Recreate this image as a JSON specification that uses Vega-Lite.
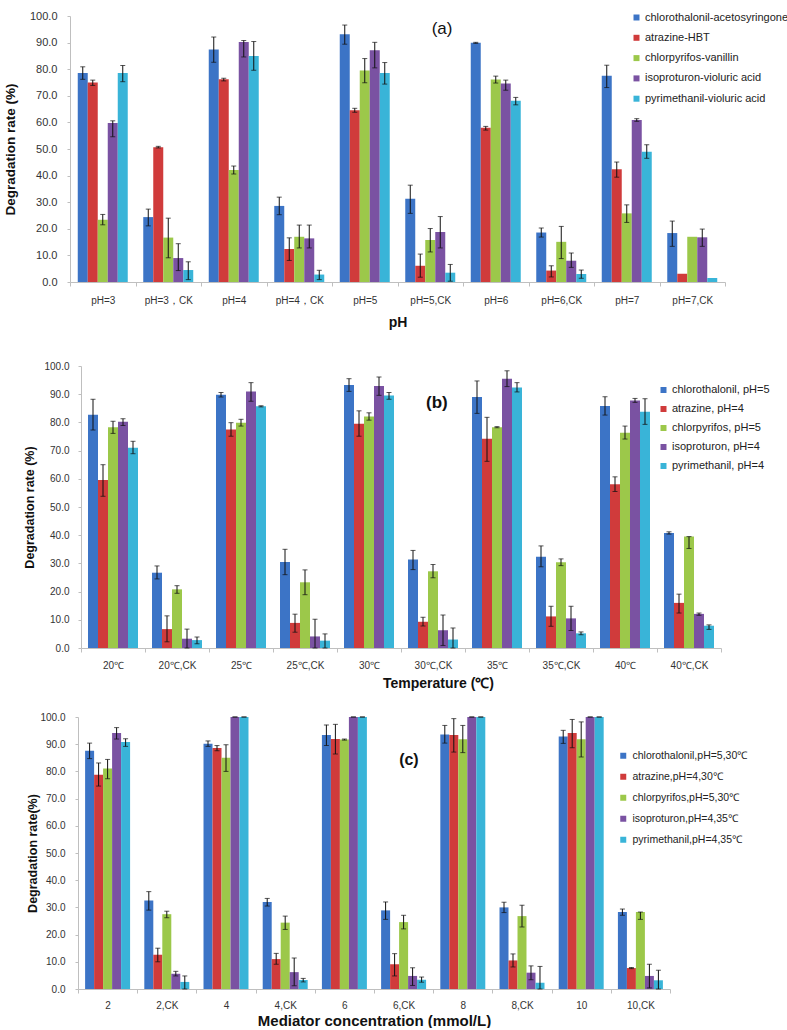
{
"$schema": "https://vega.github.io/schema/vega-lite/v6.json",
"padding": {"left": 2, "top": 10, "right": 0, "bottom": 0},
"config": {"view": {"stroke": null}, "font": "Liberation Sans",
  "axis": {"labelFont": "Liberation Sans", "titleFont": "Liberation Sans", "labelColor": "#333", "titleColor": "#111", "domainColor": "#bfbfbf", "tickColor": "#bfbfbf", "grid": false, "labelOverlap": false},
  "legend": {"labelFont": "Liberation Sans", "labelColor": "#222", "padding": 0}},
"datasets": {
"a": [
{"g":"pH=3","s":"chlorothalonil-acetosyringone","v":78.6,"lo":76.2,"hi":80.9},
{"g":"pH=3","s":"atrazine-HBT","v":75.0,"lo":73.9,"hi":75.9},
{"g":"pH=3","s":"chlorpyrifos-vanillin","v":23.4,"lo":21.5,"hi":25.4},
{"g":"pH=3","s":"isoproturon-violuric acid","v":59.8,"lo":54.6,"hi":60.6},
{"g":"pH=3","s":"pyrimethanil-violuric acid","v":78.6,"lo":75.3,"hi":81.4},
{"g":"pH=3，CK","s":"chlorothalonil-acetosyringone","v":24.4,"lo":21.1,"hi":27.4},
{"g":"pH=3，CK","s":"atrazine-HBT","v":50.7,"lo":50.4,"hi":51.0},
{"g":"pH=3，CK","s":"chlorpyrifos-vanillin","v":16.7,"lo":9.1,"hi":24.0},
{"g":"pH=3，CK","s":"isoproturon-violuric acid","v":9.0,"lo":4.3,"hi":14.4},
{"g":"pH=3，CK","s":"pyrimethanil-violuric acid","v":4.5,"lo":0.9,"hi":7.6},
{"g":"pH=4","s":"chlorothalonil-acetosyringone","v":87.4,"lo":82.6,"hi":92.1},
{"g":"pH=4","s":"atrazine-HBT","v":76.2,"lo":75.6,"hi":76.6},
{"g":"pH=4","s":"chlorpyrifos-vanillin","v":42.1,"lo":40.6,"hi":43.6},
{"g":"pH=4","s":"isoproturon-violuric acid","v":90.2,"lo":84.6,"hi":90.8},
{"g":"pH=4","s":"pyrimethanil-violuric acid","v":85.0,"lo":79.6,"hi":90.4},
{"g":"pH=4，CK","s":"chlorothalonil-acetosyringone","v":28.6,"lo":25.3,"hi":31.9},
{"g":"pH=4，CK","s":"atrazine-HBT","v":12.4,"lo":8.1,"hi":16.6},
{"g":"pH=4，CK","s":"chlorpyrifos-vanillin","v":17.0,"lo":12.8,"hi":21.4},
{"g":"pH=4，CK","s":"isoproturon-violuric acid","v":16.4,"lo":12.8,"hi":21.4},
{"g":"pH=4，CK","s":"pyrimethanil-violuric acid","v":2.8,"lo":0.9,"hi":4.4},
{"g":"pH=5","s":"chlorothalonil-acetosyringone","v":93.1,"lo":89.4,"hi":96.6},
{"g":"pH=5","s":"atrazine-HBT","v":64.6,"lo":63.8,"hi":65.3},
{"g":"pH=5","s":"chlorpyrifos-vanillin","v":79.5,"lo":74.9,"hi":84.0},
{"g":"pH=5","s":"isoproturon-violuric acid","v":87.1,"lo":80.5,"hi":90.1},
{"g":"pH=5","s":"pyrimethanil-violuric acid","v":78.6,"lo":74.4,"hi":82.5},
{"g":"pH=5,CK","s":"chlorothalonil-acetosyringone","v":31.3,"lo":25.8,"hi":36.4},
{"g":"pH=5,CK","s":"atrazine-HBT","v":6.1,"lo":1.8,"hi":10.5},
{"g":"pH=5,CK","s":"chlorpyrifos-vanillin","v":15.8,"lo":11.3,"hi":20.1},
{"g":"pH=5,CK","s":"isoproturon-violuric acid","v":18.8,"lo":12.8,"hi":24.6},
{"g":"pH=5,CK","s":"pyrimethanil-violuric acid","v":3.5,"lo":0.3,"hi":6.6},
{"g":"pH=6","s":"chlorothalonil-acetosyringone","v":89.9,"lo":89.7,"hi":90.1},
{"g":"pH=6","s":"atrazine-HBT","v":58.0,"lo":57.1,"hi":58.5},
{"g":"pH=6","s":"chlorpyrifos-vanillin","v":76.1,"lo":74.8,"hi":77.4},
{"g":"pH=6","s":"isoproturon-violuric acid","v":74.6,"lo":72.1,"hi":75.9},
{"g":"pH=6","s":"pyrimethanil-violuric acid","v":68.1,"lo":66.6,"hi":69.4},
{"g":"pH=6,CK","s":"chlorothalonil-acetosyringone","v":18.6,"lo":16.9,"hi":20.3},
{"g":"pH=6,CK","s":"atrazine-HBT","v":4.3,"lo":1.9,"hi":6.1},
{"g":"pH=6,CK","s":"chlorpyrifos-vanillin","v":15.1,"lo":8.8,"hi":20.9},
{"g":"pH=6,CK","s":"isoproturon-violuric acid","v":8.0,"lo":5.5,"hi":10.9},
{"g":"pH=6,CK","s":"pyrimethanil-violuric acid","v":3.0,"lo":1.4,"hi":4.5},
{"g":"pH=7","s":"chlorothalonil-acetosyringone","v":77.5,"lo":73.1,"hi":81.5},
{"g":"pH=7","s":"atrazine-HBT","v":42.4,"lo":39.4,"hi":45.1},
{"g":"pH=7","s":"chlorpyrifos-vanillin","v":25.8,"lo":22.4,"hi":29.0},
{"g":"pH=7","s":"isoproturon-violuric acid","v":60.9,"lo":60.4,"hi":61.4},
{"g":"pH=7","s":"pyrimethanil-violuric acid","v":49.0,"lo":46.5,"hi":51.6},
{"g":"pH=7,CK","s":"chlorothalonil-acetosyringone","v":18.4,"lo":13.4,"hi":22.9},
{"g":"pH=7,CK","s":"atrazine-HBT","v":3.1,"lo":null,"hi":null},
{"g":"pH=7,CK","s":"chlorpyrifos-vanillin","v":17.0,"lo":null,"hi":null},
{"g":"pH=7,CK","s":"isoproturon-violuric acid","v":16.8,"lo":13.4,"hi":19.9},
{"g":"pH=7,CK","s":"pyrimethanil-violuric acid","v":1.5,"lo":null,"hi":null}
],
"b": [
{"g":"20℃","s":"chlorothalonil, pH=5","v":82.7,"lo":77.3,"hi":88.2},
{"g":"20℃","s":"atrazine, pH=4","v":59.6,"lo":53.8,"hi":65.0},
{"g":"20℃","s":"chlorpyrifos, pH=5","v":78.3,"lo":76.1,"hi":80.4},
{"g":"20℃","s":"isoproturon, pH=4","v":80.2,"lo":78.9,"hi":81.3},
{"g":"20℃","s":"pyrimethanil, pH=4","v":71.0,"lo":68.9,"hi":73.3},
{"g":"20℃,CK","s":"chlorothalonil, pH=5","v":26.7,"lo":24.5,"hi":29.1},
{"g":"20℃,CK","s":"atrazine, pH=4","v":6.7,"lo":2.2,"hi":11.4},
{"g":"20℃,CK","s":"chlorpyrifos, pH=5","v":20.8,"lo":19.4,"hi":22.1},
{"g":"20℃,CK","s":"isoproturon, pH=4","v":3.3,"lo":0,"hi":6.7},
{"g":"20℃,CK","s":"pyrimethanil, pH=4","v":2.8,"lo":1.5,"hi":3.9},
{"g":"25℃","s":"chlorothalonil, pH=5","v":89.8,"lo":89.0,"hi":90.6},
{"g":"25℃","s":"atrazine, pH=4","v":77.5,"lo":75.1,"hi":79.9},
{"g":"25℃","s":"chlorpyrifos, pH=5","v":79.9,"lo":78.7,"hi":81.1},
{"g":"25℃","s":"isoproturon, pH=4","v":91.0,"lo":87.5,"hi":94.1},
{"g":"25℃","s":"pyrimethanil, pH=4","v":85.7,"lo":85.5,"hi":85.9},
{"g":"25℃,CK","s":"chlorothalonil, pH=5","v":30.5,"lo":26.0,"hi":35.0},
{"g":"25℃,CK","s":"atrazine, pH=4","v":8.9,"lo":5.6,"hi":12.0},
{"g":"25℃,CK","s":"chlorpyrifos, pH=5","v":23.3,"lo":18.9,"hi":27.7},
{"g":"25℃,CK","s":"isoproturon, pH=4","v":4.1,"lo":0,"hi":10.2},
{"g":"25℃,CK","s":"pyrimethanil, pH=4","v":2.6,"lo":0,"hi":5.0},
{"g":"30℃","s":"chlorothalonil, pH=5","v":93.3,"lo":91.0,"hi":95.5},
{"g":"30℃","s":"atrazine, pH=4","v":79.5,"lo":75.1,"hi":84.1},
{"g":"30℃","s":"chlorpyrifos, pH=5","v":82.1,"lo":80.8,"hi":83.4},
{"g":"30℃","s":"isoproturon, pH=4","v":92.9,"lo":89.6,"hi":96.1},
{"g":"30℃","s":"pyrimethanil, pH=4","v":89.5,"lo":88.2,"hi":90.6},
{"g":"30℃,CK","s":"chlorothalonil, pH=5","v":31.4,"lo":27.8,"hi":34.6},
{"g":"30℃,CK","s":"atrazine, pH=4","v":9.3,"lo":7.8,"hi":10.9},
{"g":"30℃,CK","s":"chlorpyrifos, pH=5","v":27.2,"lo":24.9,"hi":29.6},
{"g":"30℃,CK","s":"isoproturon, pH=4","v":6.3,"lo":0.9,"hi":11.7},
{"g":"30℃,CK","s":"pyrimethanil, pH=4","v":3.0,"lo":0,"hi":7.1},
{"g":"35℃","s":"chlorothalonil, pH=5","v":89.0,"lo":83.2,"hi":94.7},
{"g":"35℃","s":"atrazine, pH=4","v":74.2,"lo":66.2,"hi":81.8},
{"g":"35℃","s":"chlorpyrifos, pH=5","v":78.3,"lo":78.1,"hi":78.5},
{"g":"35℃","s":"isoproturon, pH=4","v":95.5,"lo":92.7,"hi":98.3},
{"g":"35℃","s":"pyrimethanil, pH=4","v":92.4,"lo":90.8,"hi":94.1},
{"g":"35℃,CK","s":"chlorothalonil, pH=5","v":32.4,"lo":28.8,"hi":36.2},
{"g":"35℃,CK","s":"atrazine, pH=4","v":11.2,"lo":7.7,"hi":14.8},
{"g":"35℃,CK","s":"chlorpyrifos, pH=5","v":30.4,"lo":29.2,"hi":31.6},
{"g":"35℃,CK","s":"isoproturon, pH=4","v":10.5,"lo":6.2,"hi":14.8},
{"g":"35℃,CK","s":"pyrimethanil, pH=4","v":5.2,"lo":4.7,"hi":5.7},
{"g":"40℃","s":"chlorothalonil, pH=5","v":85.8,"lo":82.6,"hi":89.1},
{"g":"40℃","s":"atrazine, pH=4","v":58.1,"lo":55.5,"hi":60.7},
{"g":"40℃","s":"chlorpyrifos, pH=5","v":76.3,"lo":74.1,"hi":78.7},
{"g":"40℃","s":"isoproturon, pH=4","v":87.8,"lo":87.1,"hi":88.5},
{"g":"40℃","s":"pyrimethanil, pH=4","v":83.8,"lo":79.3,"hi":88.4},
{"g":"40℃,CK","s":"chlorothalonil, pH=5","v":40.8,"lo":40.4,"hi":41.2},
{"g":"40℃,CK","s":"atrazine, pH=4","v":16.0,"lo":12.4,"hi":19.1},
{"g":"40℃,CK","s":"chlorpyrifos, pH=5","v":39.5,"lo":35.3,"hi":39.5},
{"g":"40℃,CK","s":"isoproturon, pH=4","v":12.1,"lo":11.6,"hi":12.4},
{"g":"40℃,CK","s":"pyrimethanil, pH=4","v":7.9,"lo":6.6,"hi":8.2}
],
"c": [
{"g":"2","s":"chlorothalonil,pH=5,30℃","v":87.6,"lo":84.7,"hi":90.4},
{"g":"2","s":"atrazine,pH=4,30℃","v":78.8,"lo":74.6,"hi":83.1},
{"g":"2","s":"chlorpyrifos,pH=5,30℃","v":81.1,"lo":77.3,"hi":84.4},
{"g":"2","s":"isoproturon,pH=4,35℃","v":94.1,"lo":91.9,"hi":96.1},
{"g":"2","s":"pyrimethanil,pH=4,35℃","v":90.8,"lo":89.2,"hi":92.0},
{"g":"2,CK","s":"chlorothalonil,pH=5,30℃","v":32.5,"lo":29.0,"hi":35.8},
{"g":"2,CK","s":"atrazine,pH=4,30℃","v":12.6,"lo":10.0,"hi":15.0},
{"g":"2,CK","s":"chlorpyrifos,pH=5,30℃","v":27.5,"lo":26.2,"hi":28.6},
{"g":"2,CK","s":"isoproturon,pH=4,35℃","v":5.6,"lo":4.8,"hi":6.5},
{"g":"2,CK","s":"pyrimethanil,pH=4,35℃","v":2.6,"lo":0,"hi":4.8},
{"g":"4","s":"chlorothalonil,pH=5,30℃","v":90.2,"lo":89.2,"hi":91.2},
{"g":"4","s":"atrazine,pH=4,30℃","v":88.6,"lo":87.6,"hi":89.5},
{"g":"4","s":"chlorpyrifos,pH=5,30℃","v":85.0,"lo":80.0,"hi":89.8},
{"g":"4","s":"isoproturon,pH=4,35℃","v":100,"lo":100,"hi":100},
{"g":"4","s":"pyrimethanil,pH=4,35℃","v":100,"lo":100,"hi":100},
{"g":"4,CK","s":"chlorothalonil,pH=5,30℃","v":32.0,"lo":30.5,"hi":33.3},
{"g":"4,CK","s":"atrazine,pH=4,30℃","v":11.0,"lo":9.1,"hi":13.1},
{"g":"4,CK","s":"chlorpyrifos,pH=5,30℃","v":24.4,"lo":21.9,"hi":26.8},
{"g":"4,CK","s":"isoproturon,pH=4,35℃","v":6.2,"lo":1.2,"hi":11.4},
{"g":"4,CK","s":"pyrimethanil,pH=4,35℃","v":3.3,"lo":2.6,"hi":3.9},
{"g":"6","s":"chlorothalonil,pH=5,30℃","v":93.4,"lo":89.5,"hi":97.1},
{"g":"6","s":"atrazine,pH=4,30℃","v":91.9,"lo":86.4,"hi":97.3},
{"g":"6","s":"chlorpyrifos,pH=5,30℃","v":91.7,"lo":91.5,"hi":91.9},
{"g":"6","s":"isoproturon,pH=4,35℃","v":100,"lo":100,"hi":100},
{"g":"6","s":"pyrimethanil,pH=4,35℃","v":100,"lo":100,"hi":100},
{"g":"6,CK","s":"chlorothalonil,pH=5,30℃","v":28.9,"lo":25.6,"hi":32.0},
{"g":"6,CK","s":"atrazine,pH=4,30℃","v":9.1,"lo":4.8,"hi":13.0},
{"g":"6,CK","s":"chlorpyrifos,pH=5,30℃","v":24.6,"lo":22.1,"hi":27.1},
{"g":"6,CK","s":"isoproturon,pH=4,35℃","v":4.8,"lo":1.3,"hi":7.8},
{"g":"6,CK","s":"pyrimethanil,pH=4,35℃","v":3.4,"lo":2.5,"hi":4.4},
{"g":"8","s":"chlorothalonil,pH=5,30℃","v":93.6,"lo":90.4,"hi":96.9},
{"g":"8","s":"atrazine,pH=4,30℃","v":93.4,"lo":87.1,"hi":99.4},
{"g":"8","s":"chlorpyrifos,pH=5,30℃","v":91.8,"lo":86.9,"hi":96.9},
{"g":"8","s":"isoproturon,pH=4,35℃","v":100,"lo":100,"hi":100},
{"g":"8","s":"pyrimethanil,pH=4,35℃","v":100,"lo":100,"hi":100},
{"g":"8,CK","s":"chlorothalonil,pH=5,30℃","v":30.0,"lo":28.1,"hi":31.9},
{"g":"8,CK","s":"atrazine,pH=4,30℃","v":10.5,"lo":8.1,"hi":12.9},
{"g":"8,CK","s":"chlorpyrifos,pH=5,30℃","v":26.8,"lo":22.8,"hi":30.8},
{"g":"8,CK","s":"isoproturon,pH=4,35℃","v":6.0,"lo":3.4,"hi":8.5},
{"g":"8,CK","s":"pyrimethanil,pH=4,35℃","v":2.3,"lo":0,"hi":8.3},
{"g":"10","s":"chlorothalonil,pH=5,30℃","v":92.8,"lo":90.3,"hi":95.1},
{"g":"10","s":"atrazine,pH=4,30℃","v":94.1,"lo":88.7,"hi":99.1},
{"g":"10","s":"chlorpyrifos,pH=5,30℃","v":91.8,"lo":85.3,"hi":98.2},
{"g":"10","s":"isoproturon,pH=4,35℃","v":100,"lo":100,"hi":100},
{"g":"10","s":"pyrimethanil,pH=4,35℃","v":100,"lo":100,"hi":100},
{"g":"10,CK","s":"chlorothalonil,pH=5,30℃","v":28.3,"lo":27.1,"hi":29.4},
{"g":"10,CK","s":"atrazine,pH=4,30℃","v":7.7,"lo":7.5,"hi":7.9},
{"g":"10,CK","s":"chlorpyrifos,pH=5,30℃","v":28.3,"lo":25.6,"hi":28.3},
{"g":"10,CK","s":"isoproturon,pH=4,35℃","v":4.8,"lo":0.4,"hi":9.1},
{"g":"10,CK","s":"pyrimethanil,pH=4,35℃","v":3.2,"lo":0,"hi":6.9}
]
},
"vconcat": [
{
 "width": 655, "height": 281,
 "data": {"name": "a"},
 "layer": [
  {"mark": {"type": "bar"},
   "encoding": {
    "x": {"field": "g", "type": "nominal", "title": "pH",
      "scale": {"domain": ["pH=3","pH=3，CK","pH=4","pH=4，CK","pH=5","pH=5,CK","pH=6","pH=6,CK","pH=7","pH=7,CK"], "range": [0, 655], "paddingInner": 0, "paddingOuter": 0},
      "axis": {"title": "pH", "titleFontSize": 14, "titleFontWeight": "bold", "labelAngle": 0, "labelFontSize": 10, "tickBand": "extent", "tickSize": 4, "labelPadding": 9, "titlePadding": 10, "offset": -15}},
    "xOffset": {"field": "s", "type": "nominal", "scale": {"domain": ["chlorothalonil-acetosyringone","atrazine-HBT","chlorpyrifos-vanillin","isoproturon-violuric acid","pyrimethanil-violuric acid"], "paddingInner": 0, "paddingOuter": 0.775}},
    "y": {"field": "v", "type": "quantitative", "title": "Degradation rate (%)",
      "scale": {"domain": [0, 100], "range": [266, 0], "nice": false},
      "axis": {"title": "Degradation rate (%)", "titleFontSize": 13.5, "titleFontWeight": "bold", "titleX": -60, "titleBaseline": "middle", "titleAlign": "center", "values": [0,10,20,30,40,50,60,70,80,90,100], "labelOverlap": false, "format": ".1f", "labelFontSize": 11, "labelPadding": 10, "tickSize": 3}},
    "color": {"field": "s", "type": "nominal",
      "scale": {"domain": ["chlorothalonil-acetosyringone","atrazine-HBT","chlorpyrifos-vanillin","isoproturon-violuric acid","pyrimethanil-violuric acid"], "range": ["#3C74C6","#D03B3B","#9CC84A","#7A52A2","#39B4D8"]},
      "legend": {"orient": "none", "legendX": 561, "legendY": -4, "title": null, "symbolType": "square", "symbolSize": 36, "symbolStrokeWidth": 0, "labelFontSize": 11, "labelOffset": 3, "rowPadding": 8.3, "labelLimit": 300}}
   }},
  {"mark": {"type": "rule", "color": "#111", "strokeWidth": 1},
   "encoding": {"x": {"field": "g", "type": "nominal", "title": "pH"}, "xOffset": {"field": "s", "type": "nominal"},
     "y": {"field": "lo", "type": "quantitative", "title": "Degradation rate (%)", "axis": {"title": "Degradation rate (%)", "titleFontSize": 13.5, "titleFontWeight": "bold", "titleX": -60, "titleBaseline": "middle", "titleAlign": "center", "values": [0,10,20,30,40,50,60,70,80,90,100], "labelOverlap": false, "format": ".1f", "labelFontSize": 11, "labelPadding": 10, "tickSize": 3}}, "y2": {"field": "hi"}}},
  {"mark": {"type": "tick", "orient": "horizontal", "size": 5, "thickness": 1, "color": "#111"},
   "encoding": {"x": {"field": "g", "type": "nominal", "title": "pH"}, "xOffset": {"field": "s", "type": "nominal"},
     "y": {"field": "lo", "type": "quantitative", "title": "Degradation rate (%)", "axis": {"title": "Degradation rate (%)", "titleFontSize": 13.5, "titleFontWeight": "bold", "titleX": -60, "titleBaseline": "middle", "titleAlign": "center", "values": [0,10,20,30,40,50,60,70,80,90,100], "labelOverlap": false, "format": ".1f", "labelFontSize": 11, "labelPadding": 10, "tickSize": 3}}}},
  {"mark": {"type": "tick", "orient": "horizontal", "size": 5, "thickness": 1, "color": "#111"},
   "encoding": {"x": {"field": "g", "type": "nominal", "title": "pH"}, "xOffset": {"field": "s", "type": "nominal"},
     "y": {"field": "hi", "type": "quantitative", "title": "Degradation rate (%)", "axis": {"title": "Degradation rate (%)", "titleFontSize": 13.5, "titleFontWeight": "bold", "titleX": -60, "titleBaseline": "middle", "titleAlign": "center", "values": [0,10,20,30,40,50,60,70,80,90,100], "labelOverlap": false, "format": ".1f", "labelFontSize": 11, "labelPadding": 10, "tickSize": 3}}}},
  {"data": {"values": [{}]},
   "mark": {"type": "text", "text": "(a)", "fontSize": 17, "font": "Liberation Sans", "color": "#111", "align": "center", "baseline": "middle"},
   "encoding": {"x": {"datum": "pH=5,CK", "bandPosition": 0.68}, "y": {"datum": 95, "axis": {"title": "Degradation rate (%)", "titleFontSize": 13.5, "titleFontWeight": "bold", "titleX": -60, "titleBaseline": "middle", "titleAlign": "center", "values": [0,10,20,30,40,50,60,70,80,90,100], "labelOverlap": false, "format": ".1f", "labelFontSize": 11, "labelPadding": 10, "tickSize": 3}}}}
 ]
},
{
 "width": 651, "height": 282,
 "data": {"name": "b"},
 "layer": [
  {"mark": {"type": "bar"},
   "encoding": {
    "x": {"field": "g", "type": "nominal", "title": "Temperature (℃)",
      "scale": {"domain": ["20℃","20℃,CK","25℃","25℃,CK","30℃","30℃,CK","35℃","35℃,CK","40℃","40℃,CK"], "range": [11, 651], "paddingInner": 0, "paddingOuter": 0},
      "axis": {"title": "Temperature (℃)", "titleFontSize": 14, "titleFontWeight": "bold", "titleX": 368, "titleAlign": "center", "labelAngle": 0, "labelFontSize": 10, "tickBand": "extent", "tickSize": 4, "labelPadding": 8, "titlePadding": 6}},
    "xOffset": {"field": "s", "type": "nominal", "scale": {"domain": ["chlorothalonil, pH=5","atrazine, pH=4","chlorpyrifos, pH=5","isoproturon, pH=4","pyrimethanil, pH=4"], "paddingInner": 0, "paddingOuter": 0.7}},
    "y": {"field": "v", "type": "quantitative", "title": "Degradation rate (%)",
      "scale": {"domain": [0, 100], "nice": false},
      "axis": {"title": "Degradation rate (%)", "titleFontSize": 12.5, "titleFontWeight": "bold", "titleX": -52, "titleBaseline": "middle", "titleAlign": "center", "offset": -11, "values": [0,10,20,30,40,50,60,70,80,90,100], "labelOverlap": false, "format": ".1f", "labelFontSize": 10, "labelPadding": 9, "tickSize": 3}},
    "color": {"field": "s", "type": "nominal",
      "scale": {"domain": ["chlorothalonil, pH=5","atrazine, pH=4","chlorpyrifos, pH=5","isoproturon, pH=4","pyrimethanil, pH=4"], "range": ["#3C74C6","#D03B3B","#9CC84A","#7A52A2","#39B4D8"]},
      "legend": {"orient": "none", "legendX": 588, "legendY": 18.5, "title": null, "symbolType": "square", "symbolSize": 36, "symbolStrokeWidth": 0, "labelFontSize": 11, "labelOffset": 3, "rowPadding": 7, "labelLimit": 300}}
   }},
  {"mark": {"type": "rule", "color": "#111", "strokeWidth": 1},
   "encoding": {"x": {"field": "g", "type": "nominal", "title": "Temperature (℃)"}, "xOffset": {"field": "s", "type": "nominal"},
     "y": {"field": "lo", "type": "quantitative", "title": "Degradation rate (%)", "axis": {"title": "Degradation rate (%)", "titleFontSize": 12.5, "titleFontWeight": "bold", "titleX": -52, "titleBaseline": "middle", "titleAlign": "center", "offset": -11, "values": [0,10,20,30,40,50,60,70,80,90,100], "labelOverlap": false, "format": ".1f", "labelFontSize": 10, "labelPadding": 9, "tickSize": 3}}, "y2": {"field": "hi"}}},
  {"mark": {"type": "tick", "orient": "horizontal", "size": 5, "thickness": 1, "color": "#111"},
   "encoding": {"x": {"field": "g", "type": "nominal", "title": "Temperature (℃)"}, "xOffset": {"field": "s", "type": "nominal"},
     "y": {"field": "lo", "type": "quantitative", "title": "Degradation rate (%)", "axis": {"title": "Degradation rate (%)", "titleFontSize": 12.5, "titleFontWeight": "bold", "titleX": -52, "titleBaseline": "middle", "titleAlign": "center", "offset": -11, "values": [0,10,20,30,40,50,60,70,80,90,100], "labelOverlap": false, "format": ".1f", "labelFontSize": 10, "labelPadding": 9, "tickSize": 3}}}},
  {"mark": {"type": "tick", "orient": "horizontal", "size": 5, "thickness": 1, "color": "#111"},
   "encoding": {"x": {"field": "g", "type": "nominal", "title": "Temperature (℃)"}, "xOffset": {"field": "s", "type": "nominal"},
     "y": {"field": "hi", "type": "quantitative", "title": "Degradation rate (%)", "axis": {"title": "Degradation rate (%)", "titleFontSize": 12.5, "titleFontWeight": "bold", "titleX": -52, "titleBaseline": "middle", "titleAlign": "center", "offset": -11, "values": [0,10,20,30,40,50,60,70,80,90,100], "labelOverlap": false, "format": ".1f", "labelFontSize": 10, "labelPadding": 9, "tickSize": 3}}}},
  {"data": {"values": [{}]},
   "mark": {"type": "text", "text": "(b)", "fontSize": 17, "fontWeight": "bold", "font": "Liberation Sans", "color": "#111", "align": "center", "baseline": "middle"},
   "encoding": {"x": {"datum": "30℃,CK", "bandPosition": 0.56}, "y": {"datum": 86.9, "axis": {"title": "Degradation rate (%)", "titleFontSize": 12.5, "titleFontWeight": "bold", "titleX": -52, "titleBaseline": "middle", "titleAlign": "center", "offset": -11, "values": [0,10,20,30,40,50,60,70,80,90,100], "labelOverlap": false, "format": ".1f", "labelFontSize": 10, "labelPadding": 9, "tickSize": 3}}}}
 ]
},
{
 "width": 600, "height": 272,
 "data": {"name": "c"},
 "layer": [
  {"mark": {"type": "bar"},
   "encoding": {
    "x": {"field": "g", "type": "nominal", "title": "Mediator concentration (mmol/L)",
      "scale": {"domain": ["2","2,CK","4","4,CK","6","6,CK","8","8,CK","10","10,CK"], "range": [8, 600], "paddingInner": 0, "paddingOuter": 0},
      "axis": {"title": "Mediator concentration (mmol/L)", "titleFontSize": 15, "titleFontWeight": "bold", "labelAngle": 0, "labelFontSize": 10, "tickBand": "extent", "tickSize": 4, "labelPadding": 7, "titlePadding": 3}},
    "xOffset": {"field": "s", "type": "nominal", "scale": {"domain": ["chlorothalonil,pH=5,30℃","atrazine,pH=4,30℃","chlorpyrifos,pH=5,30℃","isoproturon,pH=4,35℃","pyrimethanil,pH=4,35℃"], "paddingInner": 0, "paddingOuter": 0.79}},
    "y": {"field": "v", "type": "quantitative", "title": "Degradation rate(%)",
      "scale": {"domain": [0, 100], "nice": false},
      "axis": {"title": "Degradation rate(%)", "titleFontSize": 12.5, "titleFontWeight": "bold", "titleX": -46, "titleBaseline": "middle", "titleAlign": "center", "offset": -8, "values": [0,10,20,30,40,50,60,70,80,90,100], "labelOverlap": false, "format": ".1f", "labelFontSize": 10, "labelPadding": 10, "tickSize": 3}},
    "color": {"field": "s", "type": "nominal",
      "scale": {"domain": ["chlorothalonil,pH=5,30℃","atrazine,pH=4,30℃","chlorpyrifos,pH=5,30℃","isoproturon,pH=4,35℃","pyrimethanil,pH=4,35℃"], "range": ["#3C74C6","#D03B3B","#9CC84A","#7A52A2","#39B4D8"]},
      "legend": {"orient": "none", "legendX": 548, "legendY": 33.5, "title": null, "symbolType": "square", "symbolSize": 36, "symbolStrokeWidth": 0, "labelFontSize": 10.5, "labelOffset": 4, "rowPadding": 10, "labelLimit": 300}}
   }},
  {"mark": {"type": "rule", "color": "#111", "strokeWidth": 1},
   "encoding": {"x": {"field": "g", "type": "nominal", "title": "Mediator concentration (mmol/L)"}, "xOffset": {"field": "s", "type": "nominal"},
     "y": {"field": "lo", "type": "quantitative", "title": "Degradation rate(%)", "axis": {"title": "Degradation rate(%)", "titleFontSize": 12.5, "titleFontWeight": "bold", "titleX": -46, "titleBaseline": "middle", "titleAlign": "center", "offset": -8, "values": [0,10,20,30,40,50,60,70,80,90,100], "labelOverlap": false, "format": ".1f", "labelFontSize": 10, "labelPadding": 10, "tickSize": 3}}, "y2": {"field": "hi"}}},
  {"mark": {"type": "tick", "orient": "horizontal", "size": 5, "thickness": 1, "color": "#111"},
   "encoding": {"x": {"field": "g", "type": "nominal", "title": "Mediator concentration (mmol/L)"}, "xOffset": {"field": "s", "type": "nominal"},
     "y": {"field": "lo", "type": "quantitative", "title": "Degradation rate(%)", "axis": {"title": "Degradation rate(%)", "titleFontSize": 12.5, "titleFontWeight": "bold", "titleX": -46, "titleBaseline": "middle", "titleAlign": "center", "offset": -8, "values": [0,10,20,30,40,50,60,70,80,90,100], "labelOverlap": false, "format": ".1f", "labelFontSize": 10, "labelPadding": 10, "tickSize": 3}}}},
  {"mark": {"type": "tick", "orient": "horizontal", "size": 5, "thickness": 1, "color": "#111"},
   "encoding": {"x": {"field": "g", "type": "nominal", "title": "Mediator concentration (mmol/L)"}, "xOffset": {"field": "s", "type": "nominal"},
     "y": {"field": "hi", "type": "quantitative", "title": "Degradation rate(%)", "axis": {"title": "Degradation rate(%)", "titleFontSize": 12.5, "titleFontWeight": "bold", "titleX": -46, "titleBaseline": "middle", "titleAlign": "center", "offset": -8, "values": [0,10,20,30,40,50,60,70,80,90,100], "labelOverlap": false, "format": ".1f", "labelFontSize": 10, "labelPadding": 10, "tickSize": 3}}}},
  {"data": {"values": [{}]},
   "mark": {"type": "text", "text": "(c)", "fontSize": 16, "fontWeight": "bold", "font": "Liberation Sans", "color": "#111", "align": "center", "baseline": "middle"},
   "encoding": {"x": {"datum": "6,CK", "bandPosition": 0.59}, "y": {"datum": 84.2, "axis": {"title": "Degradation rate(%)", "titleFontSize": 12.5, "titleFontWeight": "bold", "titleX": -46, "titleBaseline": "middle", "titleAlign": "center", "offset": -8, "values": [0,10,20,30,40,50,60,70,80,90,100], "labelOverlap": false, "format": ".1f", "labelFontSize": 10, "labelPadding": 10, "tickSize": 3}}}}
 ]
}
],
"spacing": 69,
"bounds": "flush",
"resolve": {"scale": {"x": "independent", "y": "independent", "xOffset": "independent", "color": "independent"}, "legend": {"color": "independent"}, "axis": {"x": "independent", "y": "independent"}}
}
